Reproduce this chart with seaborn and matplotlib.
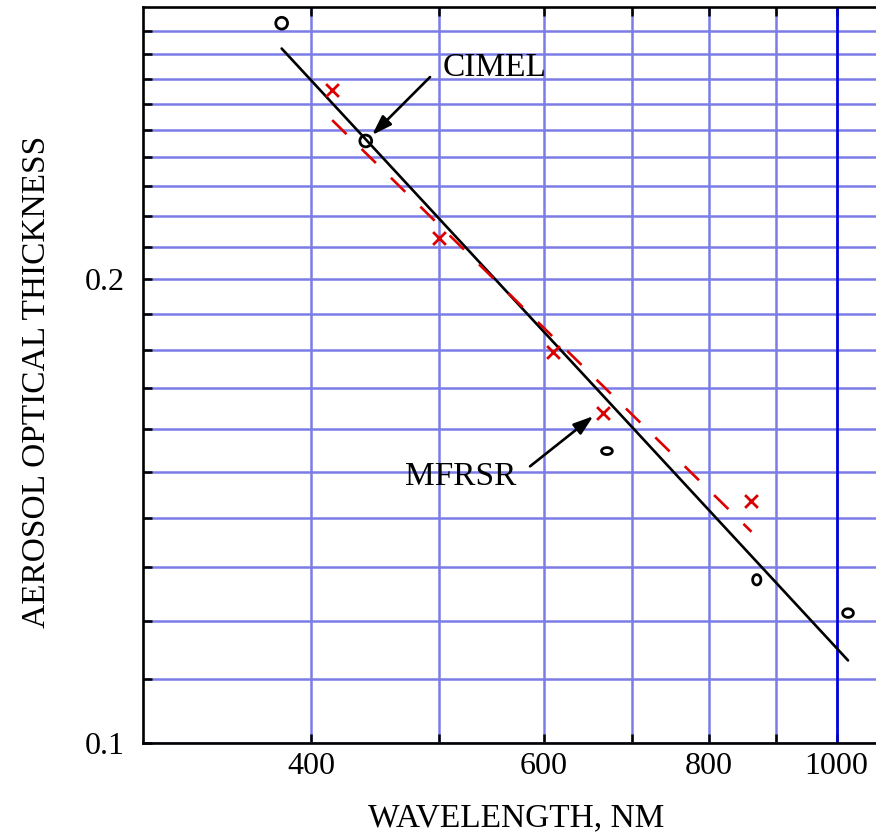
import numpy as np
import pandas as pd
import matplotlib
matplotlib.use("Agg")
import matplotlib.pyplot as plt
import seaborn as sns
from matplotlib.path import Path
from matplotlib.ticker import FixedLocator, FixedFormatter, NullFormatter

# ---------------- data ----------------
cimel_wl = [380, 440, 670, 870, 1020]
cimel_aot = [0.2934, 0.2460, 0.1547, 0.1276, 0.1214]

mfrsr_wl = [415, 500, 610, 665, 862]
mfrsr_aot = [0.2655, 0.2127, 0.1795, 0.1638, 0.1436]

cimel_fit_wl = [380, 1020]
cimel_fit_aot = [0.2825, 0.1131]

mfrsr_fit_wl = [415, 862]
mfrsr_fit_aot = [0.2538, 0.1371]

x_major_ticks = [400, 600, 800, 1000]
x_major_labels = ["400", "600", "800", "1000"]
x_minor_ticks = [500, 700, 900]

y_major_ticks = [0.1, 0.2]
y_major_labels = ["0.1", "0.2"]
y_minor_ticks = [0.11, 0.12, 0.13, 0.14, 0.15, 0.16, 0.17, 0.18, 0.19,
                 0.21, 0.22, 0.23, 0.24, 0.25, 0.26, 0.27, 0.28, 0.29]

x_label = "WAVELENGTH, NM"
y_label = "AEROSOL OPTICAL THICKNESS"

# ---------------- style ----------------
sns.set_theme(style="ticks")
plt.rcParams["font.family"] = ["Liberation Serif", "DejaVu Serif"]

GRID = "#7c7ce8"
RED = "#dd0000"


def ellipse_marker(w, h):
    t = np.linspace(0, 2 * np.pi, 73)
    verts = np.column_stack([w * np.cos(t), h * np.sin(t)])
    return Path(verts, closed=True)


cimel_markers = ["o", "o", ellipse_marker(1.0, 0.65),
                 ellipse_marker(0.8, 1.0), ellipse_marker(1.0, 0.8)]
cimel_sizes = [72, 72, 60, 55, 60]

fig = plt.figure(figsize=(8.76, 8.35), dpi=100)
ax = fig.add_axes([143 / 876, 1 - 742.7 / 835, 733 / 876, 735.7 / 835])

# fit lines
sns.lineplot(x=cimel_fit_wl, y=cimel_fit_aot, color="black", linewidth=1.9,
             ax=ax, zorder=3)
sns.lineplot(x=mfrsr_fit_wl, y=mfrsr_fit_aot, color=RED, linewidth=1.9,
             ax=ax, zorder=3)
ax.lines[-1].set_dashes([7.6, 8])

# CIMEL points (open circles)
for wl, aot, mk, sz in zip(cimel_wl, cimel_aot, cimel_markers, cimel_sizes):
    sns.scatterplot(x=[wl], y=[aot], marker=mk, s=sz, color="black",
                    facecolor="none", edgecolor="black", linewidth=2.0,
                    ax=ax, zorder=4)

# MFRSR points (crosses)
sns.scatterplot(x=mfrsr_wl, y=mfrsr_aot, marker="x", s=85, color=RED,
                linewidth=2.0, ax=ax, zorder=4)

ax.set_xscale("log")
ax.set_yscale("log")
ax.set_xlim(298.4, 1071)
ax.set_ylim(0.1, 0.3006)

ax.xaxis.set_major_locator(FixedLocator(x_major_ticks))
ax.xaxis.set_major_formatter(FixedFormatter(x_major_labels))
ax.xaxis.set_minor_locator(FixedLocator(x_minor_ticks))
ax.xaxis.set_minor_formatter(NullFormatter())
ax.yaxis.set_major_locator(FixedLocator(y_major_ticks))
ax.yaxis.set_major_formatter(FixedFormatter(y_major_labels))
ax.yaxis.set_minor_locator(FixedLocator(y_minor_ticks))
ax.yaxis.set_minor_formatter(NullFormatter())

ax.set_axisbelow(True)
ax.grid(which="both", color=GRID, linewidth=1.8)
ax.axvline(1000, color="#0000dd", linewidth=1.9, zorder=0.6)

ax.tick_params(which="both", direction="in", length=6.5, width=1.8,
               top=True, bottom=True, left=True, right=False,
               color="black", labelcolor="black", labelsize=23)
ax.tick_params(axis="x", pad=7)
ax.tick_params(axis="y", pad=13)

for side in ["left", "bottom", "top"]:
    ax.spines[side].set_color("black")
    ax.spines[side].set_linewidth(1.9)
ax.spines["right"].set_visible(False)

ax.set_xlabel(x_label, fontsize=24, color="black")
ax.xaxis.label.set_va("baseline")
ax.xaxis.set_label_coords(0.5089, -0.1132)
ax.set_ylabel(y_label, fontsize=24, color="black")
ax.yaxis.label.set_va("baseline")
ax.yaxis.label.set_rotation_mode("anchor")
ax.yaxis.set_label_coords(-0.1337, 0.4903)

# annotations
ax.text(503.5, 0.2711, "CIMEL", fontsize=24, ha="left", va="baseline",
        color="black")
ax.text(471.3, 0.1470, "MFRSR", fontsize=24, ha="left", va="baseline",
        color="black")
arrow = dict(arrowstyle="-|>,head_length=0.6,head_width=0.2",
             color="black", lw=1.9, shrinkA=0, shrinkB=0, mutation_scale=20)
ax.annotate("", xy=(444.9, 0.2482), xytext=(492.2, 0.2707), arrowprops=arrow)
ax.annotate("", xy=(654.3, 0.1630), xytext=(585.9, 0.1512), arrowprops=arrow)

fig.savefig("out.png", dpi=100)
